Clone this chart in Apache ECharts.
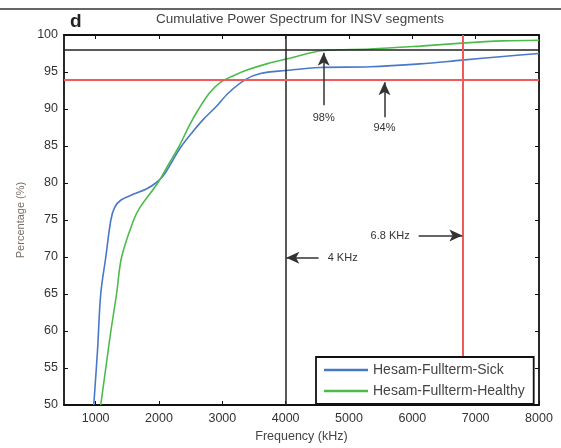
<!DOCTYPE html>
<html>
<head>
<meta charset="utf-8">
<script src="https://cdn.jsdelivr.net/npm/echarts@6/dist/echarts.min.js"></script>
<style>
  html, body { margin: 0; padding: 0; background: #fff; }
  #chart { width: 561px; height: 448px; }
</style>
</head>
<body>
<div id="chart"></div>
<script>
const title = 'Cumulative Power Spectrum for INSV segments'
const xTicks = [1000, 2000, 3000, 4000, 5000, 6000, 7000, 8000]

// Hesam-Fullterm-Sick (blue)
const sickFreq = [970, 1030, 1080, 1160, 1240, 1300, 1400, 1600, 1800, 1950, 2070, 2200, 2340, 2530, 2700, 2900, 3100, 3370, 3600, 4000, 4540, 5330, 6120, 6780, 7430, 8000]
const sickPct = [50, 57.5, 65, 70, 75, 76.7, 77.7, 78.5, 79.2, 80, 81, 82.8, 84.8, 86.9, 88.6, 90.3, 92.2, 94, 94.8, 95.2, 95.6, 95.7, 96.1, 96.6, 97.1, 97.5]

// Hesam-Fullterm-Healthy (green)
const healthyFreq = [1080, 1160, 1240, 1330, 1410, 1600, 1700, 1980, 2150, 2320, 2480, 2620, 2800, 2970, 3200, 3400, 3700, 4030, 4600, 5330, 6120, 6780, 7430, 8000]
const healthyPct = [50, 55, 60, 65, 70, 75, 76.7, 80, 82.5, 85, 87.8, 89.9, 92.2, 93.6, 94.6, 95.3, 96.1, 96.8, 97.9, 98.1, 98.5, 98.9, 99.2, 99.3]

const textColor = '#333'
const redColor = '#ef5b5b'

const chart = echarts.init(document.getElementById('chart'))

function pairs(xs, ys) {
  return xs.map((x, i) => [x, ys[i]])
}

function arrow(from, to) {
  return [
    { coord: from, symbol: 'none', lineStyle: { color: '#333', width: 1.5, type: 'solid' } },
    { coord: to, symbol: 'arrow', symbolSize: [9, 13] },
  ]
}

function note(text, coord) {
  return {
    coord: coord,
    symbol: 'circle',
    symbolSize: 0,
    label: { show: true, position: 'inside', formatter: text, color: textColor, fontSize: 11 },
  }
}

const boxAxis = {
  axisLine: { show: true, lineStyle: { color: '#111', width: 1.8 } },
  axisTick: { show: true, inside: true, length: 4, lineStyle: { color: '#111' } },
  splitLine: { show: false },
}

const option = {
  animation: false,
  graphic: [
    { type: 'line', shape: { x1: 0, y1: 9, x2: 561, y2: 9 }, style: { stroke: '#666', lineWidth: 2 } },
    { type: 'text', left: 70, top: 12, style: { text: 'd', fontSize: 19, fontWeight: 'bold', fill: '#222', fontFamily: 'Liberation Sans' } },
    { type: 'text', x: 300, y: 19, style: { text: title, fontSize: 13.5, fill: '#444', align: 'center', verticalAlign: 'middle', fontFamily: 'Liberation Sans' } },
  ],
  textStyle: { fontFamily: 'Liberation Sans' },
  grid: { left: 64, right: 22, top: 35, bottom: 39 },
  legend: {
    z: 20,
    orient: 'vertical',
    left: 316,
    top: 357,
    padding: [6, 9, 6, 8],
    itemGap: 7,
    itemWidth: 44,
    itemHeight: 2.5,
    icon: 'rect',
    backgroundColor: '#fff',
    borderColor: '#111',
    borderWidth: 1.8,
    textStyle: { color: '#444', fontSize: 14 },
    data: ['Hesam-Fullterm-Sick', 'Hesam-Fullterm-Healthy'],
  },
  xAxis: [
    {
      ...boxAxis,
      type: 'value',
      position: 'bottom',
      min: 500,
      max: 8000,
      name: 'Frequency (kHz)',
      nameLocation: 'middle',
      nameGap: 25,
      nameTextStyle: { color: '#444', fontSize: 12.5 },
      axisTick: { ...boxAxis.axisTick, customValues: xTicks },
      axisLabel: { customValues: xTicks, color: textColor, fontSize: 12.5, margin: 7, formatter: v => String(v) },
    },
    {
      ...boxAxis,
      type: 'value',
      position: 'top',
      min: 500,
      max: 8000,
      axisTick: { ...boxAxis.axisTick, customValues: xTicks },
      axisLabel: { show: false },
    },
  ],
  yAxis: [
    {
      ...boxAxis,
      type: 'value',
      position: 'left',
      min: 50,
      max: 100,
      interval: 5,
      name: 'Percentage (%)',
      nameLocation: 'middle',
      nameGap: 38,
      nameTextStyle: { color: '#7a6e66', fontSize: 11 },
      axisLabel: { color: textColor, fontSize: 12.5, margin: 6 },
    },
    {
      ...boxAxis,
      type: 'value',
      position: 'right',
      min: 50,
      max: 100,
      interval: 5,
      axisLabel: { show: false },
    },
  ],
  series: [
    {
      name: 'Hesam-Fullterm-Sick',
      type: 'line',
      data: pairs(sickFreq, sickPct),
      smooth: 0.35,
      symbol: 'none',
      color: '#4a78c8',
      lineStyle: { width: 1.6, color: '#4a78c8' },
      markLine: {
        silent: true,
        symbol: 'none',
        label: { show: false },
        data: [
          { xAxis: 4000, lineStyle: { color: '#222', width: 1.5, type: 'solid' } },
          { yAxis: 98, lineStyle: { color: '#222', width: 1.5, type: 'solid' } },
          { xAxis: 6800, lineStyle: { color: redColor, width: 2, type: 'solid' } },
          { yAxis: 94, lineStyle: { color: redColor, width: 2, type: 'solid' } },
          arrow([4600, 90.5], [4600, 97.6]),
          arrow([5560, 88.9], [5560, 93.6]),
          arrow([6100, 72.9], [6790, 72.9]),
          arrow([4520, 69.9], [4010, 69.9]),
        ],
      },
      markPoint: {
        silent: true,
        data: [
          note('98%', [4600, 88.8]),
          note('94%', [5560, 87.5]),
          note('6.8 KHz', [5650, 72.9]),
          note('4 KHz', [4900, 69.9]),
        ],
      },
    },
    {
      name: 'Hesam-Fullterm-Healthy',
      type: 'line',
      data: pairs(healthyFreq, healthyPct),
      smooth: 0.35,
      symbol: 'none',
      color: '#4cbb4c',
      lineStyle: { width: 1.6, color: '#4cbb4c' },
    },
  ],
}

chart.setOption(option)
</script>
</body>
</html>
